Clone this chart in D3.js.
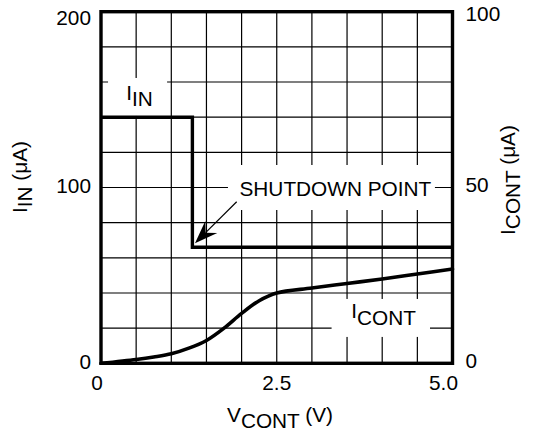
<!DOCTYPE html>
<html><head><meta charset="utf-8">
<script src="https://cdn.jsdelivr.net/npm/d3@7"></script>
<style>
body{margin:0;background:#fff}
text{font-family:'Liberation Sans',Arial,Helvetica,sans-serif;fill:#000;font-size:20.8px}
</style>
</head><body>
<svg id="c" width="534" height="433"></svg>
<script>
// ---- data ----
const vcont = [0, 0.5, 0.75, 1.0, 1.25, 1.5, 1.75, 2.0, 2.25, 2.5, 3.0, 3.5, 4.0, 4.5, 5.0]; // V
const icont = [0, 1.1, 1.8, 2.7, 4.3, 6.5, 10.0, 14.2, 17.8, 20.0, 21.4, 22.7, 24.0, 25.4, 26.8]; // µA (right axis)
const vin = [0, 1.3, 1.3, 5.0];     // V
const iin = [140, 140, 66, 66];     // µA (left axis)
const xTickValues = [0, 2.5, 5.0];
const xTickLabels = ["0", "2.5", "5.0"];
const leftTickValues = [0, 100, 200];
const rightTickValues = [0, 50, 100];

const svg = d3.select("#c");
const x = d3.scaleLinear([0, 5], [101, 452.5]);
const yL = d3.scaleLinear([0, 200], [363.3, 11.7]);
const yR = d3.scaleLinear([0, 100], [363.3, 11.7]);

// grid
const g = svg.append("g").attr("stroke", "#000").attr("stroke-width", 1.2);
x.ticks(10).forEach(v => g.append("line").attr("x1", x(v)).attr("x2", x(v)).attr("y1", yL(0)).attr("y2", yL(200)));
yL.ticks(10).forEach(v => g.append("line").attr("x1", x(0)).attr("x2", x(5)).attr("y1", yL(v)).attr("y2", yL(v)));

// label masks (white boxes clearing the grid)
function mask(v0, v1, a0, a1) {
  svg.append("rect").attr("x", x(v0)).attr("y", yL(a1)).attr("width", x(v1) - x(v0)).attr("height", yL(a0) - yL(a1)).attr("fill", "#fff");
}
mask(0.1, 0.94, 140.7, 162.3);   // I_IN
mask(1.806, 4.75, 87.2, 112.8);  // SHUTDOWN POINT
mask(3.28, 4.68, 15, 36.6);      // I_CONT

// curves
const iinPts = vin.map((v, i) => [v, iin[i]]);
svg.append("path").attr("d", d3.line().x(d => x(d[0])).y(d => yL(d[1]))(iinPts))
  .attr("fill", "none").attr("stroke", "#000").attr("stroke-width", 3.4).attr("stroke-linejoin", "miter");
const icPts = vcont.map((v, i) => [v, icont[i]]);
svg.append("path").attr("d", d3.line().curve(d3.curveCatmullRom.alpha(0.5)).x(d => x(d[0])).y(d => yR(d[1]))(icPts))
  .attr("fill", "none").attr("stroke", "#000").attr("stroke-width", 3.6).attr("stroke-linecap", "round");

// frame
svg.append("rect").attr("x", x(0)).attr("y", yL(200)).attr("width", x(5) - x(0)).attr("height", yL(0) - yL(200))
  .attr("fill", "none").attr("stroke", "#000").attr("stroke-width", 3.4);

// tick labels
leftTickValues.forEach(v => svg.append("text").attr("x", 91).attr("y", Math.max(yL(v) - 1.5, 18) + 7.4)
  .attr("text-anchor", "end").text(v));
rightTickValues.forEach(v => svg.append("text").attr("x", 465.5).attr("y", Math.max(yR(v) - 3, 14) + 7.4)
  .attr("text-anchor", "start").text(v));
const xOff = [-4, 0, -9];
xTickValues.forEach((v, i) => svg.append("text").attr("x", x(v) + xOff[i]).attr("y", 389.5)
  .attr("text-anchor", "middle").text(xTickLabels[i]));

// subscript label helper
function sub(sel, main, subTxt, rest, shift) {
  sel.append("tspan").text(main);
  sel.append("tspan").attr("dy", shift).text(subTxt);
  if (rest) sel.append("tspan").attr("dy", -shift).text(rest);
  return sel;
}

// axis titles
sub(svg.append("text").attr("x", 280).attr("y", 422).attr("text-anchor", "middle"), "V", "CONT", " (V)", 6);
sub(svg.append("text").attr("transform", "translate(27,177) rotate(-90)").attr("text-anchor", "middle"), "I", "IN", " (μA)", 5);
sub(svg.append("text").attr("transform", "translate(515,180) rotate(-90)").attr("text-anchor", "middle"), "I", "CONT", " (μA)", 5);

// in-plot labels
sub(svg.append("text").attr("x", x(0.36)).attr("y", yL(146.4) - 6), "I", "IN", null, 6);
sub(svg.append("text").attr("x", x(3.56)).attr("y", yL(21.8) - 7), "I", "CONT", null, 7);
svg.append("text").attr("x", x(1.97)).attr("y", yL(94.9)).text("SHUTDOWN POINT");

// arrow
const s = [x(1.93), yL(91.9)], t = [x(1.337), yL(68.3)];
const dx = s[0] - t[0], dy = s[1] - t[1], len = Math.hypot(dx, dy);
const ux = dx / len, uy = dy / len, px = -uy, py = ux;
const L = 23, W = 8.5, N = 15;
svg.append("line").attr("x1", s[0]).attr("y1", s[1]).attr("x2", t[0] + ux * N).attr("y2", t[1] + uy * N)
  .attr("stroke", "#000").attr("stroke-width", 1.2);
const head = [
  [t[0], t[1]],
  [t[0] + ux * L + px * W, t[1] + uy * L + py * W],
  [t[0] + ux * N, t[1] + uy * N],
  [t[0] + ux * L - px * W, t[1] + uy * L - py * W]
];
svg.append("path").attr("d", "M" + head.map(p => p.join(",")).join("L") + "Z").attr("fill", "#000");
</script>
</body></html>
